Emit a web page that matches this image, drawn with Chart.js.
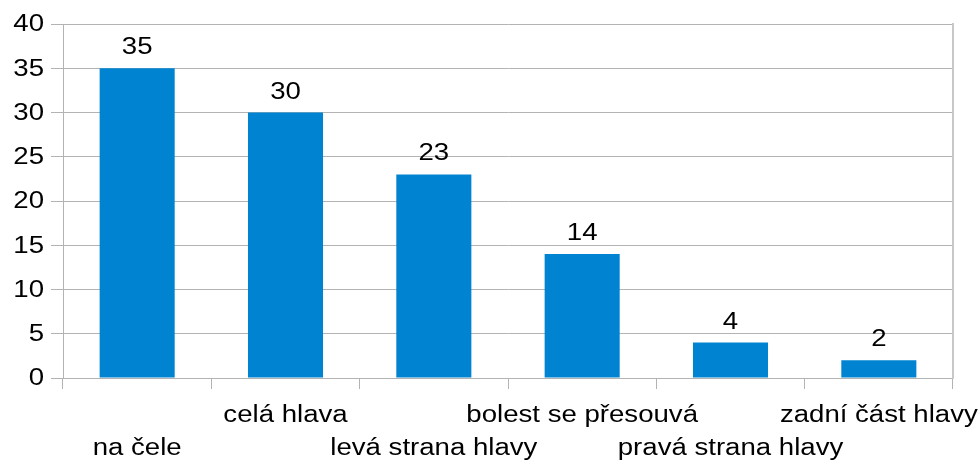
<!DOCTYPE html>
<html>
<head>
<meta charset="utf-8">
<script src="https://cdn.jsdelivr.net/npm/chart.js@4.4.1/dist/chart.umd.min.js"></script>
<style>
    html, body { margin: 0; padding: 0; background: #ffffff; }
    #wrap { width: 979px; height: 461px; position: relative; }
</style>
</head>
<body>
<div id="wrap"><canvas id="myBarChart"></canvas></div>
<script>
// Where the headache is felt
const locations = ['na čele', 'celá hlava', 'levá strana hlavy', 'bolest se přesouvá', 'pravá strana hlavy', 'zadní část hlavy'];
const counts = [35, 30, 23, 14, 4, 2];
const yTicks = [0, 5, 10, 15, 20, 25, 30, 35, 40];

const barBlue = '#0084d1';
const gridGray = '#b3b3b3';
const fontFamily = '"Liberation Sans", Arial, sans-serif';
const fontSize = 23;
const stretchX = 1.2; // text is drawn a bit wider than the font's natural width

function drawWideText(ctx, text, x, y, align, baseline) {
    ctx.save();
    ctx.translate(x, y);
    ctx.scale(stretchX, 1);
    ctx.textAlign = align;
    ctx.textBaseline = baseline;
    ctx.fillText(text, 0, 0);
    ctx.restore();
}

// Axis labels and bar values, drawn by hand so they can be widened
const textLayer = {
    id: 'textLayer',
    afterDraw(chart) {
        const ctx = chart.ctx;
        const xScale = chart.scales.x;
        const yScale = chart.scales.y;
        const meta = chart.getDatasetMeta(0);
        ctx.save();
        ctx.font = fontSize + 'px ' + fontFamily;
        ctx.fillStyle = '#000000';

        yTicks.forEach(function(v) {
            drawWideText(ctx, String(v), yScale.left + 44, yScale.getPixelForValue(v) + 1, 'right', 'middle');
        });

        // category names alternate between two rows
        locations.forEach(function(name, i) {
            const baseY = xScale.top + (i % 2 === 0 ? 77 : 44);
            drawWideText(ctx, name, xScale.getPixelForValue(i), baseY, 'center', 'alphabetic');
        });

        meta.data.forEach(function(bar, i) {
            drawWideText(ctx, String(counts[i]), bar.x, bar.y - 14, 'center', 'alphabetic');
        });
        ctx.restore();
    }
};

var ctxBar = document.getElementById('myBarChart').getContext('2d');
var myBarChart = new Chart(ctxBar, {
    type: 'bar',
    data: {
        labels: locations,
        datasets: [{
            data: counts,
            backgroundColor: barBlue,
            borderWidth: 0,
            categoryPercentage: 1.0,
            barPercentage: 0.506
        }]
    },
    options: {
        responsive: true,
        maintainAspectRatio: false,
        animation: false,
        layout: { padding: { top: 24, right: 26, left: 0, bottom: 0 } },
        plugins: {
            legend: { display: false },
            tooltip: { enabled: false }
        },
        scales: {
            x: {
                afterFit: function(scale) { scale.height = 83; },
                grid: {
                    offset: true,
                    drawOnChartArea: false,
                    drawTicks: true,
                    tickLength: 11,
                    color: gridGray
                },
                border: { color: gridGray },
                ticks: { display: false, autoSkip: false }
            },
            y: {
                min: 0,
                max: 40,
                afterBuildTicks: function(scale) {
                    scale.ticks = yTicks.map(function(v) { return { value: v }; });
                },
                afterFit: function(scale) { scale.width = 63; },
                grid: {
                    color: gridGray,
                    tickLength: 12
                },
                border: { color: gridGray },
                ticks: { display: false }
            },
            yRight: {
                position: 'right',
                min: 0,
                max: 40,
                grid: { drawOnChartArea: false, drawTicks: false },
                border: { color: '#c8c8c8', width: 2 },
                ticks: { display: false },
                afterFit: function(scale) { scale.width = 0; }
            }
        }
    },
    plugins: [textLayer]
});
</script>
</body>
</html>
